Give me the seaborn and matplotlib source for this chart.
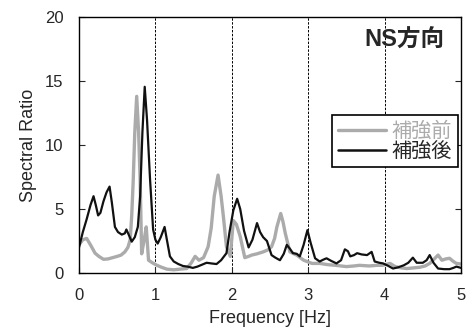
import numpy as np
import pandas as pd
import seaborn as sns
import matplotlib.pyplot as plt

# 補強後 (after reinforcement)
FREQ_AFTER = [0.00, 0.05, 0.10, 0.15, 0.19, 0.22, 0.25, 0.28, 0.32, 0.36, 0.40, 0.43, 0.47, 0.51,
              0.56, 0.60, 0.62, 0.65, 0.69, 0.73, 0.77, 0.80, 0.83, 0.86, 0.89, 0.93, 0.97, 1.00,
              1.03, 1.07, 1.12, 1.15, 1.19, 1.24, 1.30, 1.36, 1.42, 1.49, 1.55, 1.61, 1.67, 1.73,
              1.80, 1.86, 1.93, 1.97, 2.02, 2.07, 2.11, 2.16, 2.22, 2.27, 2.33, 2.37, 2.41, 2.46,
              2.52, 2.57, 2.63, 2.68, 2.72, 2.76, 2.80, 2.85, 2.89, 2.94, 2.99, 3.03, 3.09, 3.15,
              3.20, 3.24, 3.30, 3.37, 3.43, 3.48, 3.52, 3.55, 3.60, 3.64, 3.70, 3.77, 3.83, 3.87,
              3.93, 3.98, 4.05, 4.11, 4.18, 4.25, 4.31, 4.37, 4.42, 4.50, 4.55, 4.59, 4.64, 4.70,
              4.78, 4.85, 4.90, 4.94, 5.00]
RATIO_AFTER = [2.0, 3.2, 4.2, 5.3, 6.0, 5.3, 4.5, 4.7, 5.6, 6.3, 6.75, 5.5, 3.6, 3.2,
               3.0, 3.1, 3.4, 3.0, 2.45, 2.8, 3.6, 6.0, 11.0, 14.55, 12.0, 7.3, 3.4, 2.6,
               2.3, 2.8, 3.6, 2.6, 1.3, 0.9, 0.7, 0.55, 0.5, 0.4, 0.5, 0.65, 0.8, 0.75,
               0.7, 1.0, 1.55, 3.2, 4.9, 5.8, 5.0, 3.3, 2.0, 2.6, 3.9, 3.2, 2.8, 2.5,
               1.4, 1.2, 1.0, 1.5, 2.2, 1.9, 1.55, 1.5, 1.3, 2.2, 3.35, 2.4, 1.15, 0.9,
               1.05, 1.15, 0.95, 0.75, 1.0, 1.85, 1.7, 1.3, 1.4, 1.55, 1.45, 1.4, 1.65, 0.9,
               0.8, 0.75, 0.55, 0.35, 0.45, 0.6, 0.8, 1.2, 0.8, 0.8, 1.0, 1.4, 0.8, 0.35,
               0.3, 0.3, 0.4, 0.5, 0.4]

# 補強前 (before reinforcement)
FREQ_BEFORE = [0.00, 0.05, 0.10, 0.15, 0.21, 0.26, 0.32, 0.38, 0.44, 0.50, 0.55, 0.60, 0.64, 0.67,
               0.69, 0.71, 0.73, 0.755, 0.78, 0.80, 0.82, 0.85, 0.88, 0.91, 0.96, 1.02, 1.08, 1.15,
               1.24, 1.32, 1.41, 1.47, 1.52, 1.57, 1.63, 1.69, 1.73, 1.77, 1.82, 1.86, 1.89, 1.93,
               1.98, 2.02, 2.06, 2.11, 2.17, 2.22, 2.26, 2.33, 2.41, 2.47, 2.52, 2.56, 2.59, 2.64,
               2.67, 2.70, 2.76, 2.85, 2.94, 3.05, 3.15, 3.26, 3.36, 3.50, 3.60, 3.67, 3.80, 3.90,
               3.97, 4.07, 4.14, 4.22, 4.29, 4.38, 4.46, 4.53, 4.59, 4.65, 4.70, 4.75, 4.80, 4.85,
               4.90, 4.94, 5.00]
RATIO_BEFORE = [2.2, 2.6, 2.7, 2.2, 1.55, 1.3, 1.07, 1.1, 1.2, 1.3, 1.4, 1.65, 2.0, 2.6,
                4.5, 7.3, 11.0, 13.8, 11.0, 7.3, 1.5, 2.5, 3.6, 1.0, 0.8, 0.6, 0.45, 0.3,
                0.25, 0.3, 0.35, 0.8, 1.3, 1.0, 1.2, 2.05, 3.5, 6.0, 7.65, 6.0, 4.4, 2.05,
                1.3, 4.1, 3.8, 2.85, 1.2, 1.3, 1.4, 1.5, 1.65, 1.8, 2.05, 2.7, 3.6, 4.65,
                4.0, 3.1, 1.65, 1.4, 1.0, 0.75, 0.75, 0.65, 0.6, 0.5, 0.55, 0.6, 0.55, 0.6,
                0.6, 0.75, 0.5, 0.4, 0.35, 0.4, 0.45, 0.55, 0.75, 1.1, 1.4, 1.0, 1.1, 1.15,
                0.9, 0.75, 0.7]

LABEL_BEFORE = "補強前"
LABEL_AFTER = "補強後"
X_TICKS = [0, 1, 2, 3, 4, 5]
Y_TICKS = [0, 5, 10, 15, 20]

df = pd.concat([
    pd.DataFrame({"Frequency": FREQ_BEFORE, "Ratio": RATIO_BEFORE, "case": LABEL_BEFORE}),
    pd.DataFrame({"Frequency": FREQ_AFTER, "Ratio": RATIO_AFTER, "case": LABEL_AFTER}),
], ignore_index=True)

sns.set_style("ticks")
plt.rcParams["font.family"] = ["Liberation Sans", "Noto Sans CJK JP"]

fig = plt.figure(figsize=(4.72, 3.31), dpi=100)
ax = fig.add_axes([0.1674, 0.1752, 0.8093, 0.7734])

colors = {LABEL_BEFORE: "#ababab", LABEL_AFTER: "#111111"}
sns.lineplot(data=df, x="Frequency", y="Ratio", hue="case", palette=colors,
             size="case", sizes={LABEL_BEFORE: 2.4, LABEL_AFTER: 1.6},
             sort=False, estimator=None, ax=ax, legend=False)

# vertical dashed guides at each Hz
for xv in X_TICKS[1:-1]:
    ax.axvline(xv, color="black", lw=0.7, ls=(0, (2.5, 1.5)), zorder=0)

ax.set_xlim(0, 5)
ax.set_ylim(0, 20)
ax.set_xticks(X_TICKS)
ax.set_yticks(Y_TICKS)
ax.tick_params(direction="in", length=4, width=0.8, labelsize=12, right=True, pad=11)
ax.set_xlabel("Frequency [Hz]", fontsize=13, labelpad=5)
ax.set_ylabel("Spectral Ratio", fontsize=13, labelpad=6)
for sp in ax.spines.values():
    sp.set_visible(True)
    sp.set_linewidth(1.0)
    sp.set_color("black")

ax.text(0.958, 0.91, "NS方向", transform=ax.transAxes, ha="right", va="center",
        fontsize=17, fontweight="bold")

handles = [plt.Line2D([], [], color=colors[LABEL_BEFORE], lw=2.4),
           plt.Line2D([], [], color=colors[LABEL_AFTER], lw=1.8)]
leg = ax.legend(handles, [LABEL_BEFORE, LABEL_AFTER], loc="upper left",
                bbox_to_anchor=(0.662, 0.617), fontsize=14.5, frameon=True, fancybox=False,
                edgecolor="black", framealpha=1, handlelength=2.4, handletextpad=0.25,
                borderpad=0.3, labelspacing=0.05, borderaxespad=0)
leg.get_frame().set_linewidth(1.2)
leg.get_texts()[0].set_color(colors[LABEL_BEFORE])

fig.savefig("out.png", dpi=100)
